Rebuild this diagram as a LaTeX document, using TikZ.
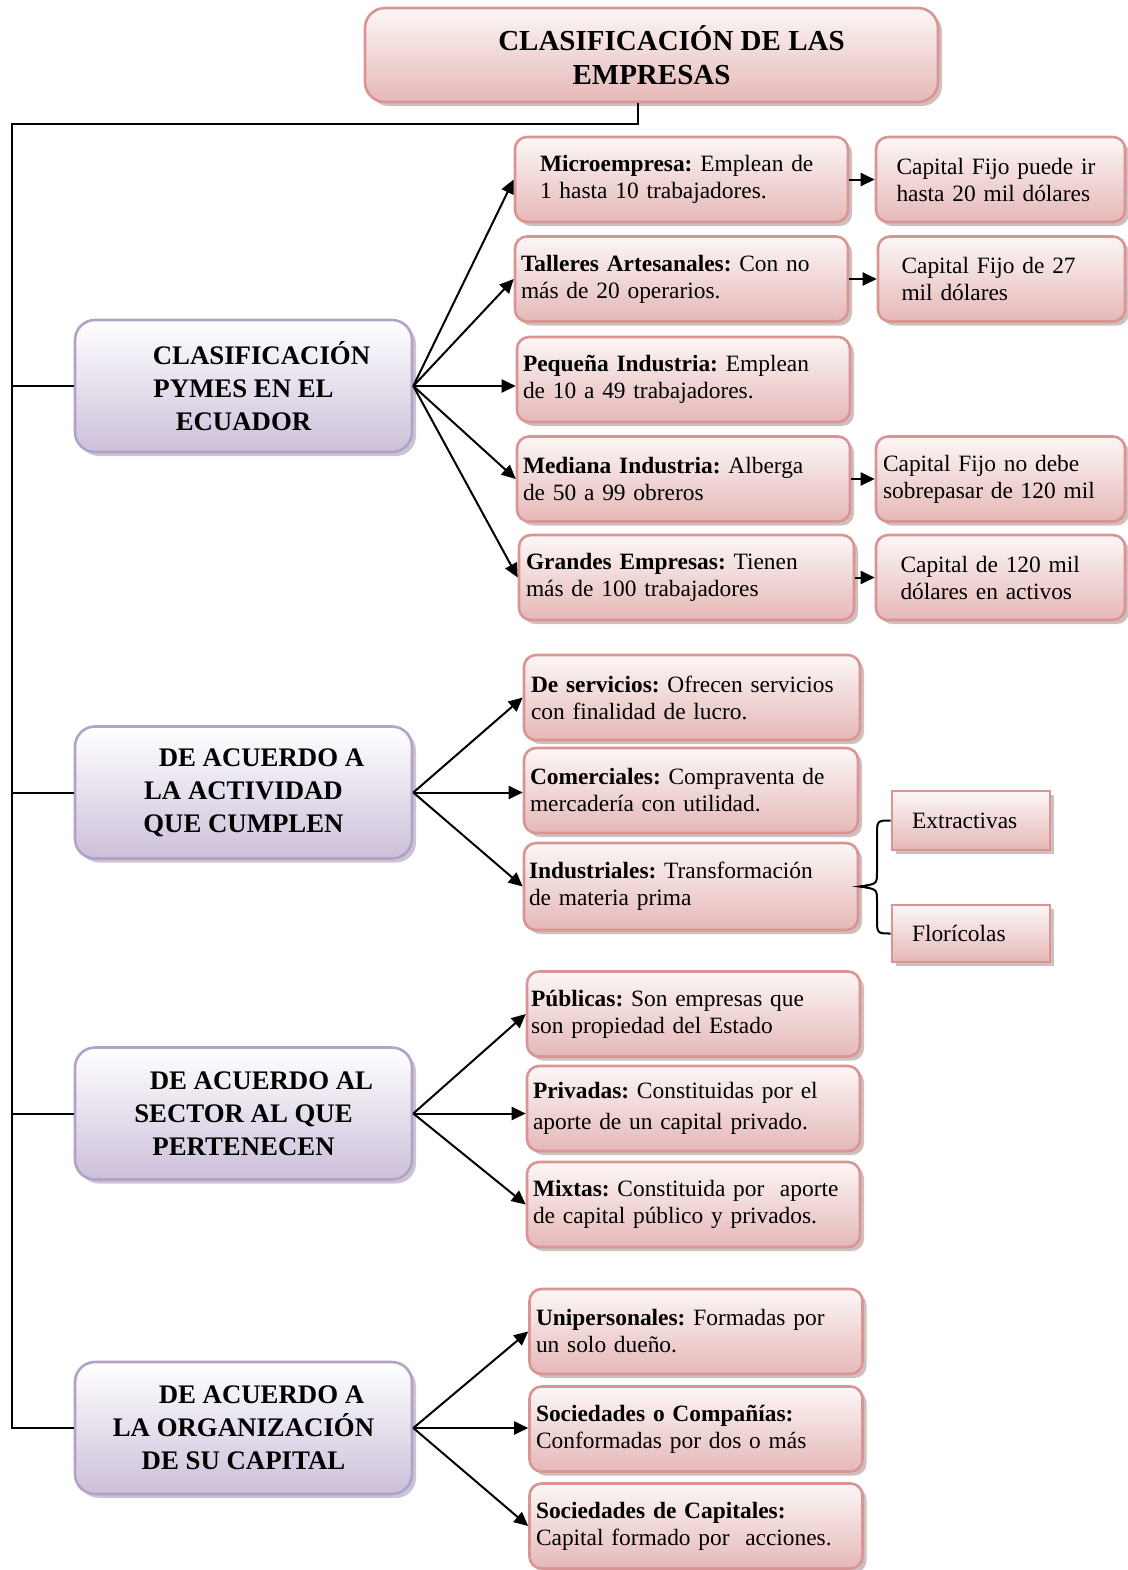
\documentclass[tikz,border=0pt]{standalone}
\usepackage{fontspec}
\setmainfont{Liberation Serif}
\usetikzlibrary{shadows,arrows.meta}
\definecolor{bordeRosa}{RGB}{217,149,148}
\definecolor{fondoRosa}{RGB}{229,184,183}
\definecolor{bordeLila}{RGB}{178,162,199}
\definecolor{fondoLila}{RGB}{204,192,218}
\definecolor{sombra}{RGB}{160,128,128}
\definecolor{sombraLila}{RGB}{150,140,165}
\newcommand{\lin}[2]{\makebox[#1][s]{#2}}
\frenchspacing

\begin{document}
\begin{tikzpicture}[x=0.5pt,y=-0.5pt,line width=1pt,
    rosa/.style={rectangle,rounded corners=6pt,draw=bordeRosa,line width=1.3pt,
      top color=fondoRosa!12,bottom color=fondoRosa,
      drop shadow={shadow xshift=2pt,shadow yshift=-2pt,fill=sombra},
      inner sep=0pt,align=left,minimum width=166.5pt,minimum height=42.5pt,
      font=\fontsize{11.7}{13.5}\selectfont},
    lila/.style={rectangle,rounded corners=10pt,draw=bordeLila,line width=1.3pt,
      top color=white,bottom color=fondoLila,
      drop shadow={shadow xshift=2pt,shadow yshift=-2pt,fill=sombraLila},
      inner sep=0pt,align=center,minimum width=168.5pt,minimum height=66pt,
      font=\bfseries\fontsize{13.4}{16.5}\selectfont}]

      \useasboundingbox (0,0) rectangle (1128,1570);

      \begin{scope}[every node/.style={lila}]
        \node (2)  at (243.5,386)    {\hspace*{18pt}CLASIFICACIÓN\\PYMES EN EL\\ECUADOR};
        \node (12) at (243.5,792.5)  {\hspace*{18pt}DE ACUERDO A\\LA ACTIVIDAD\\QUE CUMPLEN};
        \node (18) at (243.5,1113.5) {\hspace*{18pt}DE ACUERDO AL\\SECTOR AL QUE\\PERTENECEN};
        \node (22) at (243.5,1428)   {\hspace*{18pt}DE ACUERDO A\\LA ORGANIZACIÓN\\DE SU CAPITAL};
      \end{scope}

      \begin{scope}[every node/.style={rosa}]
        \node[rounded corners=10pt,minimum width=286.5pt,minimum height=47pt,align=center,
          font=\bfseries\fontsize{14.5}{17}\selectfont] (1) at (651.5,55) {\hspace*{20pt}CLASIFICACIÓN DE LAS\\EMPRESAS};

        \node[text width=141.5pt] (3)  at (681.5,179.5) {\lin{141pt}{\textbf{Microempresa:} Emplean de}\\1 hasta 10 trabajadores.};
        \node[text width=160.5pt] (5)  at (681.5,279)   {\lin{153.5pt}{\textbf{Talleres Artesanales:} Con no}\\más de 20 operarios.};
        \node[text width=160.5pt] (7)  at (683.5,379.5) {\lin{150pt}{\textbf{Pequeña Industria:} Emplean}\\de 10 a 49 trabajadores.};
        \node[text width=160.5pt] (8)  at (683.5,479)   {\textbf{Mediana Industria:} Alberga\\de 50 a 99 obreros};
        \node[text width=160.5pt,minimum width=167.5pt] (10) at (686.5,577.5) {\textbf{Grandes Empresas:} Tienen\\más de 100 trabajadores};
        \node[text width=104pt,minimum width=124.5pt] (4)  at (1000.5,179.5) {Capital Fijo puede ir\\hasta 20 mil dólares};
        \node[text width=100pt,minimum width=123.5pt]   (6)  at (1001.5,279)   {\lin{100pt}{Capital Fijo de 27}\\mil dólares};
        \node[text width=117.5pt,minimum width=124.5pt] (9)  at (1000.5,479)   {\lin{109.5pt}{Capital Fijo no debe}\\\lin{109.5pt}{sobrepasar de 120 mil}};
        \node[text width=100pt,minimum width=124.5pt]   (11) at (1000.5,577.5) {\lin{100pt}{Capital de 120 mil}\\dólares en activos};

        \node[text width=161pt,minimum width=168pt] (13) at (692,697.5) {\textbf{De servicios:} Ofrecen servicios\\con finalidad de lucro.};
        \node[text width=161pt,minimum width=167pt] (14) at (691,790.5) {\textbf{Comerciales:} Compraventa de\\mercadería con utilidad.};
        \node[text width=162pt,minimum width=167pt,minimum height=43.5pt] (15) at (691,886.5) {\lin{150.5pt}{\textbf{Industriales:} Transformación}\\de materia prima};
        \node[sharp corners,text width=59pt,minimum width=79pt,minimum height=29.5pt] (16) at (971,820.5) {Extractivas};
        \node[sharp corners,text width=59pt,minimum width=79pt,minimum height=28.5pt] (17) at (971,933.5) {Florícolas};

        \node[text width=162.5pt] (19) at (693.5,1014)   {\textbf{Públicas:} Son empresas que\\son propiedad del Estado};
        \node[text width=160.5pt] (20) at (693.5,1108.5) {\textbf{Privadas:} Constituidas por el\\[2pt]aporte de un capital privado.};
        \node[text width=160.5pt] (21) at (693.5,1204.5) {\textbf{Mixtas:} Constituida por\ \ aporte\\de capital público y privados.};

        \node[text width=160pt] (23) at (696,1331.5) {\textbf{Unipersonales:} Formadas por\\un solo dueño.};
        \node[text width=160pt] (24) at (696,1429)   {\textbf{Sociedades o Compañías:}\\Conformadas por dos o más};
        \node[text width=160pt] (25) at (696,1526)   {\textbf{Sociedades de Capitales:}\\Capital formado por\ \ acciones.};
      \end{scope}

      \coordinate (a) at (638,124);
      \coordinate (t) at (12,124);
      \draw (a |- 1.south) -- (a) -- (t) |- (22.west);
      \draw (t |- 2.west) -- (2.west);
      \draw (t |- 12.west) -- (12.west);
      \draw (t |- 18.west) -- (18.west);

      \begin{scope}[every edge/.style={draw,-{Triangle[length=7pt,width=6.5pt]}}]
        \path (2.east)  edge (3.west);
        \path (2.east)  edge (5.west);
        \path (2.east)  edge (7.west |- 2.east);
        \path (2.east)  edge (8.west);
        \path (2.east)  edge (10.west);
        \path (3.east)  edge (4.west);
        \path (5.east)  edge (6.west);
        \path (8.east)  edge (9.west);
        \path (10.east) edge (11.west);
        \path (12.east) edge (13.west);
        \path (12.east) edge (14.west |- 12.east);
        \path (12.east) edge (15.west);
        \path (18.east) edge (19.west);
        \path (18.east) edge (20.west |- 18.east);
        \path (18.east) edge (21.west);
        \path (22.east) edge (23.west);
        \path (22.east) edge (24.west |- 22.east);
        \path (22.east) edge (25.west);
      \end{scope}

      \draw (16.west) .. controls (877,820.5) .. (877,836) -- (877,872)
        .. controls (877,884) .. (15.east) .. controls (877,889) .. (877,901)
        -- (877,918) .. controls (877,933.5) .. (17.west);

    \end{tikzpicture}
\end{document}
